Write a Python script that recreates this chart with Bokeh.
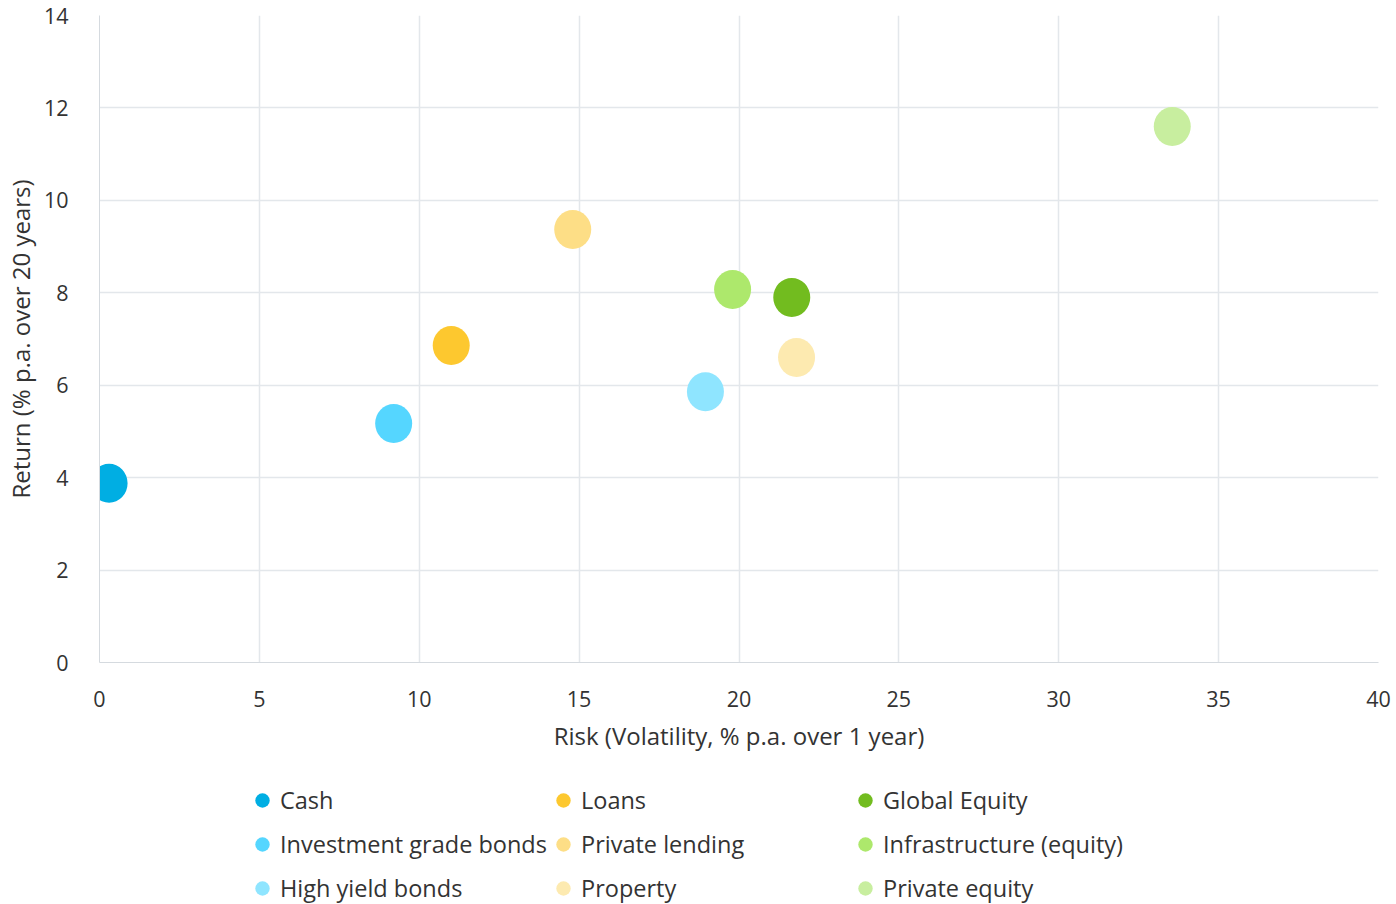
from bokeh.plotting import figure
from bokeh.layouts import column
from bokeh.models import ColumnDataSource, Legend, LegendItem, FixedTicker, Range1d
from bokeh.embed import file_html
from bokeh.resources import INLINE

# Asset classes: risk (volatility) vs. return
assets = ["Cash", "Investment grade bonds", "High yield bonds",
          "Loans", "Private lending", "Property",
          "Global Equity", "Infrastructure (equity)", "Private equity"]
risk = [0.3, 9.2, 18.95, 11.0, 14.8, 21.8, 21.65, 19.8, 33.55]
ret = [3.88, 5.17, 5.86, 6.86, 9.37, 6.6, 7.9, 8.07, 11.6]
colors = ["#00AEE3", "#55D6FF", "#8FE5FF",
          "#FDC82F", "#FDDE86", "#FDEAB0",
          "#72BC1F", "#ADE86C", "#C8EE9F"]

x_ticks = [0, 5, 10, 15, 20, 25, 30, 35, 40]
y_ticks = [0, 2, 4, 6, 8, 10, 12, 14]

FONT = "Open Sans"
TEXT = "#333333"
GRID = "#E3E7EB"

sources = [ColumnDataSource(dict(x=[xv], y=[yv])) for xv, yv in zip(risk, ret)]

# ---- main scatter plot ----
p = figure(width=1396, height=760, output_backend="svg", toolbar_location=None,
           x_range=Range1d(0, 40), y_range=Range1d(0, 14),
           min_border_left=99, min_border_right=18, min_border_top=15,
           min_border_bottom=98)
p.outline_line_color = None
p.background_fill_color = "white"

for src, c in zip(sources, colors):
    p.ellipse("x", "y", source=src, width=37, height=39,
              width_units="screen", height_units="screen",
              fill_color=c, line_color=None)

for ax in (p.xaxis[0], p.yaxis[0]):
    ax.major_tick_line_color = None
    ax.minor_tick_line_color = None
    ax.axis_line_color = "#D5DADF"
    ax.major_label_text_font = FONT
    ax.major_label_text_font_size = "21.5px"
    ax.major_label_text_color = TEXT
    ax.axis_label_text_font = FONT
    ax.axis_label_text_font_size = "24px"
    ax.axis_label_text_font_style = "normal"
    ax.axis_label_text_color = TEXT

p.xaxis.ticker = FixedTicker(ticks=x_ticks)
p.yaxis.ticker = FixedTicker(ticks=y_ticks)
p.xaxis.axis_label = "Risk (Volatility, % p.a. over 1 year)"
p.yaxis.axis_label = "Return (% p.a. over 20 years)"
p.xaxis.major_label_standoff = 22
p.yaxis.major_label_standoff = 25
p.xaxis.axis_label_standoff = 9
p.yaxis.axis_label_standoff = 4

p.xgrid.grid_line_color = GRID
p.ygrid.grid_line_color = GRID
p.xgrid.grid_line_width = 1.5
p.ygrid.grid_line_width = 1.5

# ---- legend strip: three columns of three entries ----
leg = figure(width=1396, height=144, output_backend="svg", toolbar_location=None,
             x_range=Range1d(0, 1), y_range=Range1d(100, 101),
             x_axis_type=None, y_axis_type=None,
             min_border_left=0, min_border_right=0, min_border_top=0,
             min_border_bottom=0)
leg.outline_line_color = None
leg.xgrid.visible = False
leg.ygrid.visible = False

keys = []
for name, src, c in zip(assets, sources, colors):
    r = leg.scatter("x", "y", source=src, fill_color=c, line_color=None)
    keys.append(LegendItem(label=name, renderers=[r]))

col_x = [145, 446, 748]
for ci in range(3):
    lg = Legend(items=keys[ci * 3:ci * 3 + 3], location=(col_x[ci], -4),
                orientation="vertical", border_line_color=None,
                background_fill_alpha=0, label_text_font=FONT,
                label_text_font_size="23.5px", label_text_color=TEXT,
                glyph_width=36, glyph_height=40, spacing=4, padding=0,
                label_standoff=0, margin=0)
    leg.add_layout(lg, "center")

open("out.html", "w").write(file_html(column(p, leg, spacing=0), INLINE))
